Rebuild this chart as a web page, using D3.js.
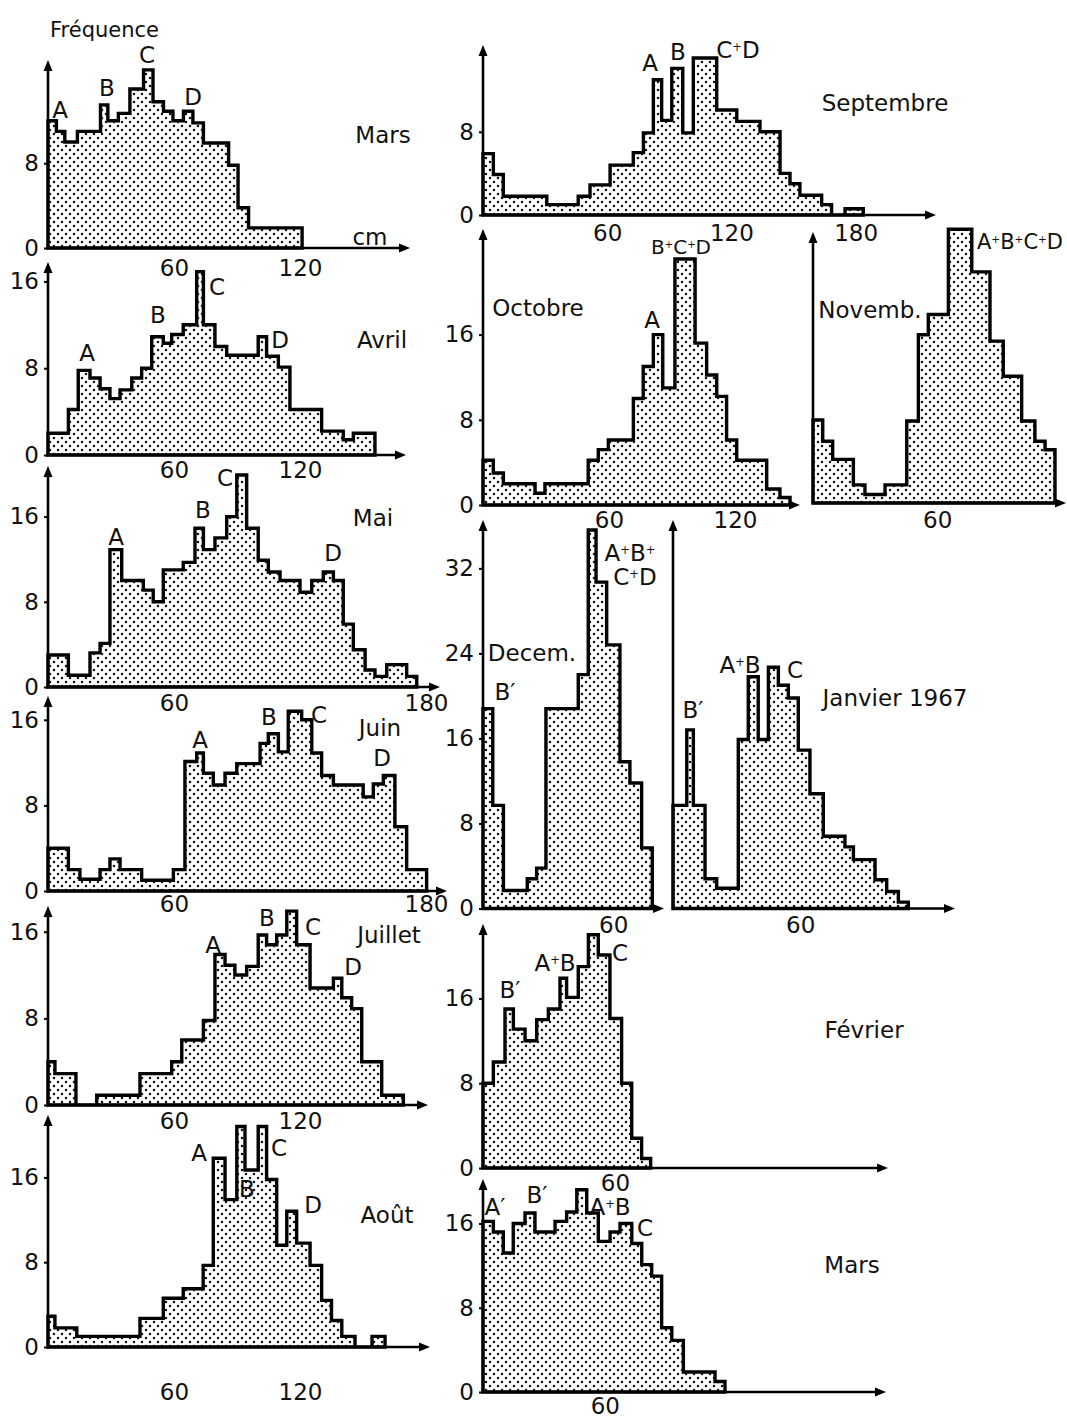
<!DOCTYPE html>
<html>
<head>
<meta charset="utf-8">
<script src="https://cdn.jsdelivr.net/npm/d3@7"></script>
<style>
  html, body { margin: 0; background: #fff; }
  svg { display: block; }
  text { font-family: "DejaVu Sans", sans-serif; fill: #111; }
</style>
</head>
<body>
<svg id="chart" width="1067" height="1420"></svg>
<script>
// Length-frequency histograms (class edges in cm, frequency per class), 1966-1967.

// Mars
const marsEdges = [0,4,8,14,25,28.5,33.5,39,45.5,50,55,59.5,64.5,69,74,86,90.5,95.5,121];
const marsFreq  = [12,11,10,11,13.5,12,12.7,15,16.8,13.8,12.9,12,12.9,11.8,9.9,7.8,3.8,1.9];
// Avril
const avrilEdges = [0,9.7,14.4,20,24.8,29.5,34.3,39.9,44.6,49.4,54.9,58.9,64.4,70.8,74,79.5,85.1,100.1,104.1,109.7,115.2,130.3,140.6,145.4,155.7];
const avrilFreq  = [2,4.2,7.8,7.1,6.1,5.2,6,7.1,8,10.9,10.3,11.1,12,16.9,12,10,9.2,10.9,9.1,8.1,4.2,2.2,1.4,2];
// Mai
const maiEdges = [0,9.7,20,24.8,29.5,35.1,45.4,50.1,54.9,64.4,70,74,79.5,85.1,89.9,94.6,100.1,104.9,110.5,120,125.6,131.1,135.9,140.6,145.4,151,155.7,161.3,170.8,175.6];
const maiFreq  = [3,1.1,3.2,4.1,12.9,10,9.1,8,11,11.7,14.9,12.9,14,16,19.9,14.9,11.9,10.8,10,8.9,10,10.8,10,5.9,3.5,1.6,1,2.1,1];
// Juin
const juinEdges = [0,9.7,15.2,24.8,29.5,34.3,44.6,59.7,65.2,70.8,74,78.7,84.3,89.9,101,104.9,109.7,114.4,120.8,125.6,130.3,135.9,150.1,154.9,159.7,165.2,170.8,180.3];
const juinFreq  = [4,2,1.1,2,3,2,1,2,12.1,12.9,11,9.9,11,11.9,13.8,14.7,13,16.8,16,12.9,10.8,9.9,8.8,10,10.8,6,2];
// Juillet
const juilletEdges = [0,3.3,13.3,23.2,43.8,58.9,63.7,74,79.5,84.3,89,94.6,100.1,104.1,108.9,113.7,118.4,124.8,135.9,139.9,144.6,149.4,158.9,169.2];
const juilletFreq  = [4,2.9,0,0.9,2.9,4,6,7.8,13.9,12.9,12,12.8,15.7,14.8,15.7,17.9,14.8,10.8,11.7,9.9,8.9,4,0.9];
// Août
const aoutEdges = [0,3.3,13.7,43.8,54.9,64.4,73.9,78.7,84.3,89.9,93.8,100.1,104.1,108.9,113.7,118.4,124.8,130.3,135,139.9,146.2,154.3,160.5];
const aoutFreq  = [2.9,1.8,1,2.7,4.6,5.5,7.7,17.8,13.9,20.8,16.7,20.8,15.8,9.6,12.8,9.8,7.7,4.4,2.5,1,0,1];
// Septembre
const septEdges = [0,5,9.8,30.8,46,51.7,61.4,72.6,77.5,82.3,86.3,91.2,96.5,101.6,112.9,122.6,133.8,143.5,148.3,153.1,163.6,168.4,174.9,178.9,183.7];
const septFreq  = [5.9,3.9,1.8,1,1.8,2.9,4.8,6,7.9,13,9.1,14.1,7.9,15.1,10.1,9,8,4,3,1.9,1,0,0.6,0.6];
// Octobre
const octEdges = [0,4.9,9.7,24.8,29.5,50.1,54.9,59.7,71.6,76.3,81.1,85.6,91.4,101,106.5,111.3,116,120.8,135.1,141.4,146.2];
const octFreq  = [4.2,3,2,1.1,2,4.2,5.2,6.1,10,13,16,11,23.1,15.2,12.2,10.2,6.1,4.2,1.5,0.7];
// Novembre
const novEdges = [0,4.7,9.5,19.5,25.1,34.8,45.3,50.9,55.7,65.4,76.7,85.5,91.9,100.8,107.2,112.1,116.9];
const novFreq  = [7.8,5.8,4.1,1.7,0.8,1.7,7.7,15.8,17.7,25.7,21.7,15.2,11.9,7.7,5.8,5];
// Décembre
const decEdges = [0,4.5,9.4,20.4,24.7,29,43.9,48.5,52.1,57,63.1,67.7,73.1,78];
const decFreq  = [18.8,9.7,1.7,2.8,3.8,18.8,22,35.6,30.7,24.8,13.8,11.8,5.7];
// Janvier 1967
const janEdges = [0,6.5,9.6,15.1,20.6,30.8,35.5,40.2,45,49.7,54.4,59.1,64.6,70.9,81.1,85.1,95.3,100.8,106.3,111];
const janFreq  = [9.7,16.8,9.7,2.8,1.9,15.9,21.8,15.9,22.7,21,19.8,14.9,10.8,6.8,5.8,4.6,2.7,1.6,0.6];
// Février
const fevEdges = [0,4.7,10,13.8,19.1,24.4,29.7,35,38,43.3,47.9,52.4,57.7,63,67.6,72.1,76.2];
const fevFreq  = [8,10,15,13.1,12,14,15,17.9,16.1,19,22,20.1,14.1,8,2.8,0.9];
// Mars 1967
const mars2Edges = [0,5.1,10,14.9,20.7,25.6,35.5,41.2,46.2,51.1,56.8,62.6,67.5,73.3,78.2,83.1,88,93,98.7,114.3,119.2];
const mars2Freq  = [16.2,15.2,13.2,16,17,15.2,16.2,17.1,19.2,17,14.3,15.2,16,14.1,12.1,11,6.1,4.9,1.9,1];

// Tick values per panel
const yTicksSmall = [0, 8];
const yTicksStd = [0, 8, 16];
const yTicksDec = [0, 8, 16, 24, 32];

// Panel frames: origin, pixels per cm (kx), pixels per unit frequency (ky), axis extents
const frames = [
  {edges: marsEdges,    freq: marsFreq,    x0: 48,  y0: 248,  kx: 2.1,  ky: 10.6,  xEnd: 408,  yTop: 62,   yTicks: yTicksSmall, xTicks: [60,120],     xLabelY: 268},
  {edges: avrilEdges,   freq: avrilFreq,   x0: 48,  y0: 455,  kx: 2.1,  ky: 10.85, xEnd: 404,  yTop: 264,  yTicks: yTicksStd,   xTicks: [60,120],     xLabelY: 470},
  {edges: maiEdges,     freq: maiFreq,     x0: 48,  y0: 687,  kx: 2.1,  ky: 10.65, xEnd: 438,  yTop: 468,  yTicks: yTicksStd,   xTicks: [60,180],     xLabelY: 703},
  {edges: juinEdges,    freq: juinFreq,    x0: 48,  y0: 891,  kx: 2.1,  ky: 10.7,  xEnd: 445,  yTop: 698,  yTicks: yTicksStd,   xTicks: [60,180],     xLabelY: 904},
  {edges: juilletEdges, freq: juilletFreq, x0: 48,  y0: 1105, kx: 2.1,  ky: 10.83, xEnd: 426,  yTop: 908,  yTicks: yTicksStd,   xTicks: [60,120],     xLabelY: 1121},
  {edges: aoutEdges,    freq: aoutFreq,    x0: 48,  y0: 1347, kx: 2.1,  ky: 10.6,  xEnd: 428,  yTop: 1117, yTicks: yTicksStd,   xTicks: [60,120],     xLabelY: 1392},
  {edges: septEdges,    freq: septFreq,    x0: 483, y0: 215,  kx: 2.07, ky: 10.4,  xEnd: 934,  yTop: 47,   yTicks: yTicksSmall, xTicks: [60,120,180], xLabelY: 233},
  {edges: octEdges,     freq: octFreq,     x0: 483, y0: 505,  kx: 2.1,  ky: 10.65, xEnd: 798,  yTop: 231,  yTicks: yTicksStd,   xTicks: [60,120],     xLabelY: 520},
  {edges: novEdges,     freq: novFreq,     x0: 813, y0: 503,  kx: 2.07, ky: 10.65, xEnd: 1064, yTop: 234,  yTicks: [],          xTicks: [60],         xLabelY: 520},
  {edges: decEdges,     freq: decFreq,     x0: 483, y0: 908.5,kx: 2.17, ky: 10.63, xEnd: 662,  yTop: 522,  yTicks: yTicksDec,   xTicks: [60],         xLabelY: 925},
  {edges: janEdges,     freq: janFreq,     x0: 673, y0: 908.5,kx: 2.12, ky: 10.63, xEnd: 953,  yTop: 522,  yTicks: [],          xTicks: [60],         xLabelY: 925},
  {edges: fevEdges,     freq: fevFreq,     x0: 483, y0: 1168, kx: 2.2,  ky: 10.6,  xEnd: 886,  yTop: 926,  yTicks: yTicksStd,   xTicks: [60],         xLabelY: 1183},
  {edges: mars2Edges,   freq: mars2Freq,   x0: 483, y0: 1392, kx: 2.03, ky: 10.53, xEnd: 884,  yTop: 1181, yTicks: yTicksStd,   xTicks: [60],         xLabelY: 1406}
];

// Annotation text: [text, x, y, anchor, size]
const notes = [
  ["Fréquence", 50, 30, "start", 21],
  ["A",60,110], ["B",107,88], ["C",147,55], ["D",193,97], ["Mars",383,135], ["cm",370,237],
  ["A",87,353], ["B",158,315], ["C",217,287], ["D",280,340], ["Avril",382,340],
  ["A",116,537], ["B",203,510], ["C",225,478], ["D",333,553], ["Mai",373,518],
  ["A",200,740], ["B",269,717], ["C",319,715], ["D",382,758], ["Juin",380,728],
  ["A",213,945], ["B",267,918], ["C",313,927], ["D",353,967], ["Juillet",389,935],
  ["A",199,1153], ["B",247,1189], ["C",279,1148], ["D",313,1205], ["Août",387,1215],
  ["A",650,63], ["B",678,52], ["C+D",738,50], ["Septembre",885,103],
  ["Octobre",538,308], ["A",652,320], ["B+C+D",681,247, "middle", 20],
  ["Novemb.",870,310], ["A+B+C+D",1020,242, "middle", 21],
  ["A+B+",630,553], ["C+D",635,577], ["Decem.",532,653], ["B′",505,692],
  ["A+B",740,665], ["C",795,670], ["B′",693,710], ["Janvier 1967",895,698],
  ["B′",510,990], ["A+B",555,963], ["C",620,953], ["Février",864,1030],
  ["A′",495,1207], ["B′",537,1195], ["A+B",610,1207], ["C",645,1228], ["Mars",852,1265]
];

const svg = d3.select("#chart");
svg.append("rect").attr("width", 1067).attr("height", 1420).attr("fill", "#fff");

// Stipple fill used inside every histogram
const pat = svg.append("defs").append("pattern")
  .attr("id", "dots").attr("patternUnits", "userSpaceOnUse")
  .attr("width", 8).attr("height", 8);
pat.append("rect").attr("width", 8).attr("height", 8).attr("fill", "#fff");
pat.append("circle").attr("cx", 2).attr("cy", 2).attr("r", 1.25).attr("fill", "#111");
pat.append("circle").attr("cx", 6).attr("cy", 6).attr("r", 1.25).attr("fill", "#111");

const fontSize = 23;

frames.forEach(f => {
  const g = svg.append("g");
  const x = d3.scaleLinear().domain([0, 100]).range([f.x0, f.x0 + 100 * f.kx]);
  const y = d3.scaleLinear().domain([0, 10]).range([f.y0, f.y0 - 10 * f.ky]);

  // step outline: one point per class edge, last edge repeats the last class value
  const pts = f.edges.map((e, i) => [e, f.freq[Math.min(i, f.freq.length - 1)]]);
  const area = d3.area()
    .x(d => x(d[0]))
    .y0(y(0))
    .y1(d => y(d[1]))
    .curve(d3.curveStepAfter);

  g.append("path")
    .attr("d", area(pts))
    .attr("fill", "url(#dots)")
    .attr("stroke", "#000")
    .attr("stroke-width", 3.4)
    .attr("stroke-linejoin", "miter");

  // axes with arrowheads
  g.append("line").attr("x1", f.x0).attr("y1", f.y0 + 1).attr("x2", f.x0).attr("y2", f.yTop + 6)
    .attr("stroke", "#000").attr("stroke-width", 2.6);
  g.append("line").attr("x1", f.x0 - 1).attr("y1", f.y0).attr("x2", f.xEnd - 6).attr("y2", f.y0)
    .attr("stroke", "#000").attr("stroke-width", 2.6);
  g.append("path")
    .attr("d", `M${f.x0},${f.yTop - 2}L${f.x0 - 4.5},${f.yTop + 9}L${f.x0 + 4.5},${f.yTop + 9}Z`)
    .attr("fill", "#000");
  g.append("path")
    .attr("d", `M${f.xEnd + 2},${f.y0}L${f.xEnd - 9},${f.y0 - 4.5}L${f.xEnd - 9},${f.y0 + 4.5}Z`)
    .attr("fill", "#000");

  if (f.yTicks.length) {
    const ya = g.append("g").attr("transform", `translate(${f.x0},0)`)
      .call(d3.axisLeft(y).tickValues(f.yTicks).tickSize(4).tickPadding(5).tickFormat(d3.format("d")));
    ya.select(".domain").remove();
    ya.selectAll("line").attr("stroke", "#000").attr("stroke-width", 2);
    ya.selectAll("text").style("font-family", '"DejaVu Sans", sans-serif')
      .style("font-size", fontSize + "px").attr("fill", "#111");
  }

  const xa = g.append("g").attr("transform", `translate(0,${f.y0})`)
    .call(d3.axisBottom(x).tickValues(f.xTicks).tickSize(0).tickPadding(f.xLabelY - f.y0 - 8)
      .tickFormat(d3.format("d")));
  xa.select(".domain").remove();
  xa.selectAll("text").style("font-family", '"DejaVu Sans", sans-serif')
    .style("font-size", fontSize + "px").attr("fill", "#111");
});

// annotation labels; "+" is set small and raised as in the lettering
notes.forEach(([t, nx, ny, anchor, size]) => {
  const s = size || fontSize;
  const txt = svg.append("text")
    .attr("x", nx).attr("y", ny)
    .attr("text-anchor", anchor || "middle")
    .attr("dominant-baseline", "central")
    .style("font-size", s + "px");
  const parts = t.split("+");
  parts.forEach((p, i) => {
    if (i > 0) {
      txt.append("tspan").text("+").style("font-size", (s * 0.5) + "px").attr("dy", -3);
      txt.append("tspan").text(p).attr("dy", 3);
    } else {
      txt.append("tspan").text(p);
    }
  });
});
</script>
</body>
</html>
